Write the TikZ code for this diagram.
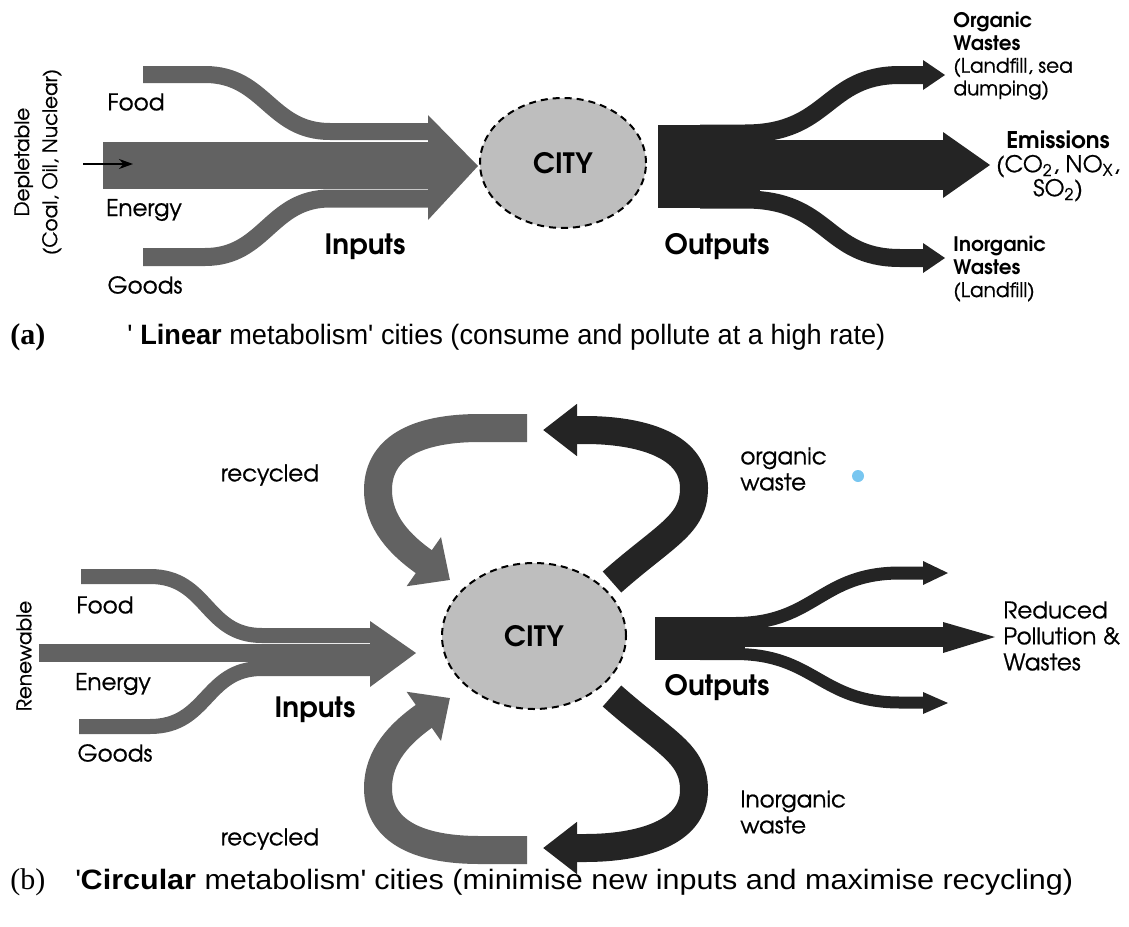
\documentclass[tikz,border=0pt]{standalone}
\usepackage{fontspec}
\setmainfont{TeX Gyre Adventor}[UprightFeatures={FakeBold=0.7}]
\newfontfamily\capfonta[FakeStretch=0.97]{Liberation Sans}
\newfontfamily\capfontb[FakeStretch=1.09]{Liberation Sans}
\newfontfamily\tagfont{Liberation Serif}
\usetikzlibrary{arrows.meta,shapes.geometric}
\definecolor{inflow}{RGB}{98,98,98}
\definecolor{outflow}{RGB}{36,36,36}
\definecolor{cityfill}{RGB}{190,190,190}
\definecolor{dotblue}{RGB}{120,198,240}
\tikzset{
  city/.style={ellipse, draw=black, fill=cityfill, line width=1pt, dash pattern=on 3.5pt off 2.5pt, font=\fontsize{14}{16}\selectfont\bfseries},
  lbl/.style={font=\fontsize{11.5}{13}\selectfont, inner sep=0pt},
  blbl/.style={font=\fontsize{14}{16}\selectfont\bfseries, inner sep=0pt},
  olbl/.style={font=\fontsize{10}{11.3}\selectfont, align=left, inner sep=0pt},
  captxt/.style={anchor=west, inner sep=0pt},
  captag/.style={anchor=west, inner sep=0pt, font=\tagfont\fontsize{15}{17}\selectfont},
}
\begin{document}
\begin{tikzpicture}[x=0.5pt,y=-0.5pt]
\useasboundingbox (0,0) rectangle (1129,926);

% (a) inputs
\draw [inflow, line width=23.5pt] (103,165.5) -- (429,165.5) ;
\draw [inflow, line width=8.5pt] (143,74.5) -- (205,74.5) .. controls (265,74.5) and (270,131.5) .. (330,131.5) -- (429,131.5) ;
\draw [inflow, line width=9pt] (143,257) -- (205,257) .. controls (265,257) and (270,198.5) .. (330,198.5) -- (429,198.5) ;
\fill [inflow] (428,115) -- (478,166) -- (428,220) -- cycle ;

% (a) outputs
\fill [outflow] (658,125) rectangle (760,208) ;
\draw [outflow, line width=25pt] (700,165) -- (944,165) ;
\fill [outflow] (943,132) -- (990,165) -- (943,198) -- cycle ;
\draw [outflow, line width=9pt] (700,133.5) -- (745,133.5) .. controls (830,133.5) and (825,75) .. (900,75) -- (924,75) ;
\fill [outflow] (923,60) -- (945,75) -- (923,90) -- cycle ;
\draw [outflow, line width=9pt] (700,199.5) -- (745,199.5) .. controls (830,199.5) and (825,258) .. (900,258) -- (924,258) ;
\fill [outflow] (923,243) -- (945,258) -- (923,273) -- cycle ;

\node [rotate=90, align=center, font=\fontsize{10}{14}\selectfont] (depl) at (38,162) {Depletable\\(Coal, Oil, Nuclear)};
\coordinate (srcA) at (83,164);
\coordinate (srcAend) at (133,164);
\draw [line width=0.8pt, -{Stealth[length=7pt,width=5pt]}] (srcA) -- (srcAend) ;

\node [lbl] (foodA) at (136,102) {Food};
\node [lbl] (energyA) at (144,210) {Energy};
\node [lbl] (goodsA) at (145,285) {Goods};
\node [blbl] (inA) at (365,247) {Inputs};
\node [city, minimum width=83pt, minimum height=65pt] (cityA) at (563,163) {CITY};
\node [blbl] (outA) at (717,247) {Outputs};
\node [olbl, anchor=west] (orgA) at (953,56) {\textbf{Organic}\\\textbf{Wastes}\\(Landfill, sea\\dumping)};
\node [olbl, align=center, font=\fontsize{11.5}{12}\selectfont] (emisA) at (1058,166) {\textbf{Emissions}\\(CO\textsubscript{2}, NO\textsubscript{X},\\SO\textsubscript{2})};
\node [olbl, anchor=west] (inorgA) at (953,269) {\textbf{Inorganic}\\\textbf{Wastes}\\(Landfill)};

\node [captag, font=\tagfont\bfseries\fontsize{15}{17}\selectfont] (tagA) at (10,337) {(a)};
\node [captxt, font=\capfonta\fontsize{14}{16}\selectfont] (capA) at (127,337) {\textquotesingle\ \textbf{Linear} metabolism\textquotesingle{} cities (consume and pollute at a high rate)};

% (b) inputs
\draw [inflow, line width=9pt] (39,653) -- (371,653) ;
\draw [inflow, line width=7.5pt] (81,576.5) -- (150,576.5) .. controls (208,576.5) and (205,635.5) .. (262,635.5) -- (371,635.5) ;
\draw [inflow, line width=7.5pt] (79,726.5) -- (150,726.5) .. controls (208,726.5) and (205,668.5) .. (262,668.5) -- (371,668.5) ;
\fill [inflow] (370,621) -- (416,653) -- (370,687) -- cycle ;

% (b) outputs
\fill [outflow] (655,617) rectangle (745,660) ;
\draw [outflow, line width=10pt] (700,637) -- (944,637) ;
\fill [outflow] (943,622) -- (995,637) -- (943,653) -- cycle ;
\draw [outflow, line width=6.5pt] (700,623.5) -- (735,623.5) .. controls (815,623.5) and (820,573) .. (900,573) -- (924,573) ;
\fill [outflow] (923,561) -- (948,573) -- (923,585) -- cycle ;
\draw [outflow, line width=6pt] (700,654) -- (735,654) .. controls (815,654) and (820,702.5) .. (900,702.5) -- (924,702.5) ;
\fill [outflow] (923,692) -- (948,703) -- (923,714) -- cycle ;

% (b) loops
\draw [inflow, line width=14pt, -{Triangle[length=16pt,width=29pt]}] (527,428) -- (480,428) .. controls (405,428) and (378,455) .. (378,490) .. controls (378,522) and (400,545) .. (450,580) ;
\draw [inflow, line width=14pt, -{Triangle[length=16pt,width=29pt]}] (527,850) -- (480,850) .. controls (405,850) and (378,823) .. (378,788) .. controls (378,756) and (400,733) .. (450,698) ;
\draw [outflow, line width=14pt, -{Triangle[length=17pt,width=25pt]}] (612,582) .. controls (665,535) and (694,525) .. (694,488) .. controls (694,445) and (640,430) .. (585,430) -- (543,430) ;
\draw [outflow, line width=14pt, -{Triangle[length=17pt,width=25pt]}] (612,696) .. controls (665,743) and (694,753) .. (694,790) .. controls (694,833) and (640,848) .. (585,848) -- (543,848) ;

\node [rotate=90, font=\fontsize{10}{12}\selectfont] (renew) at (24,656) {Renewable};
\node [lbl] (foodB) at (105,605) {Food};
\node [lbl] (energyB) at (113,684) {Energy};
\node [lbl] (goodsB) at (115,753) {Goods};
\node [blbl] (inB) at (315,710) {Inputs};
\node [city, minimum width=92pt, minimum height=73pt] (cityB) at (534,636) {CITY};
\node [blbl] (outB) at (717,688) {Outputs};
\node [lbl] (recT) at (270,475) {recycled};
\node [lbl] (recB) at (270,839) {recycled};
\node [lbl, align=left, anchor=west] (orgB) at (740,469) {organic\\waste};
\node [lbl, align=left, anchor=west] (inorgB) at (740,812) {Inorganic\\waste};
\node [lbl, align=left, anchor=west] (redB) at (1003,636) {Reduced\\Pollution \&\\Wastes};
\fill [dotblue] (858,476) circle (3pt);

\node [captag] (tagB) at (10,882) {(b)};
\node [captxt, font=\capfontb\fontsize{14}{16}\selectfont] (capB) at (75,882) {\textquotesingle\textbf{Circular} metabolism\textquotesingle{} cities (minimise new inputs and maximise recycling)};
\end{tikzpicture}
\end{document}
